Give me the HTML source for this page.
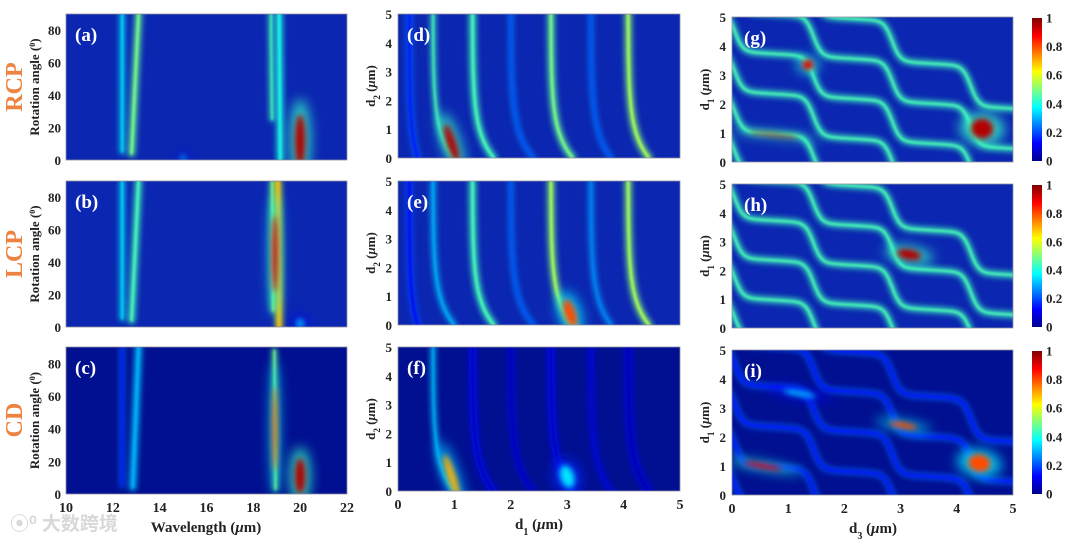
<!DOCTYPE html>
<html><head><meta charset="utf-8"><style>
html,body{margin:0;padding:0;background:#fff;width:1080px;height:539px;overflow:hidden;}
svg{display:block;font-family:"Liberation Serif",serif;}
</style></head><body>
<svg id="fig" width="1080" height="539" viewBox="0 0 1080 539" xmlns="http://www.w3.org/2000/svg">
<defs>
<filter id="b3" filterUnits="userSpaceOnUse" x="0" y="0" width="1080" height="539"><feGaussianBlur stdDeviation="3"/></filter>
<filter id="b1" filterUnits="userSpaceOnUse" x="0" y="0" width="1080" height="539"><feGaussianBlur stdDeviation="1"/></filter>
<filter id="b6" filterUnits="userSpaceOnUse" x="0" y="0" width="1080" height="539"><feGaussianBlur stdDeviation="6"/></filter>
<linearGradient id="jet" x1="0" y1="1" x2="0" y2="0">
<stop offset="0" stop-color="#00008f"/><stop offset="0.125" stop-color="#0000ff"/><stop offset="0.375" stop-color="#00ffff"/><stop offset="0.625" stop-color="#ffff00"/><stop offset="0.875" stop-color="#ff0000"/><stop offset="1" stop-color="#800000"/>
</linearGradient>
</defs>
</svg>
<script>
const NS='http://www.w3.org/2000/svg';
const svg=document.getElementById('fig');
// ---- data ----
const col1XTicks=[10,12,14,16,18,20,22];
const col1YTicks=[0,20,40,60,80];
const dTicks=[0,1,2,3,4,5];
const cbTicks=[0,0.2,0.4,0.6,0.8,1];
// col1 ridges: [wl at bottom, wl at top, angle start, angle end] per panel
const ridgesA=[[12.4,12.4,5,90],[12.8,13.1,4,90],[18.8,18.75,25,90],[19.15,19.1,0,90]];
const ridgeIntA=[0.35,0.5,0.45,0.4];
const ridgesB=[[12.4,12.4,5,90],[12.8,13.1,4,90],[18.85,18.8,10,90],[19.1,19.05,0,90]];
const ridgeIntB=[0.35,0.45,0.5,0.7];
const ridgesC=[[12.4,12.4,5,90],[12.85,13.1,4,90],[18.95,18.9,3,88]];
const ridgeIntC=[0.15,0.3,0.5];
// hotspots: [x,y,rx,ry,intensity]
const hotA=[[20,12,0.22,16,0.95],[15,1,0.1,2,0.3]];
const hotB=[[18.92,45,0.12,24,0.9],[20,2,0.15,3,0.3]];
const hotC=[[18.92,40,0.09,26,0.8],[20,11,0.22,11,0.95]];
// col2 curves: d1 at d2=5 (top), d1 at d2=0 (bottom)
const curveTop=[0.2,0.62,1.32,2.0,2.71,3.42,4.08];
const curveBot=[0.35,1.0,1.7,2.4,3.1,3.78,4.45];
const intD=[0.15,0.45,0.45,0.2,0.5,0.2,0.55];
const intE=[0.12,0.3,0.45,0.2,0.55,0.25,0.55];
const intF=[0.0,0.3,0.05,0.03,0.05,0.05,0.02];
const hotD=[[0.95,0.5,0.08,0.7,0.95]];
const hotE=[[3.05,0.4,0.1,0.5,0.8]];
const hotF=[[0.95,0.5,0.07,0.8,0.7],[3.0,0.5,0.12,0.4,0.35]];
// col3 staircase: drop positions along d3, step height, flat levels at d3=0.5
const drops=[0.05,1.45,2.85,4.25];
const stepH=1.38;
const levels=[-3.14,-1.76,-0.38,1.0,2.38,3.76,5.14,6.52];
const intG=0.45, intH=0.45, intI=0.14;
const hotG=[[0.75,0.93,0.45,0.05,0.95],[1.35,3.35,0.1,0.18,0.9],[4.45,1.15,0.2,0.35,0.95]];
const hotH=[[3.15,2.55,0.22,0.18,0.95]];
const hotI=[[0.55,1.0,0.35,0.08,0.9],[3.05,2.4,0.25,0.1,0.8],[4.4,1.1,0.2,0.3,0.8],[1.2,3.5,0.3,0.1,0.3]];

function jet(v){v=Math.max(0,Math.min(1,v));const st=[[0,0,0,143],[0.125,0,0,255],[0.375,0,255,255],[0.625,255,255,0],[0.875,255,0,0],[1,128,0,0]];
for(let i=1;i<st.length;i++){if(v<=st[i][0]){const a=st[i-1],b=st[i],t=(v-a[0])/(b[0]-a[0]);return `rgb(${Math.round(a[1]+t*(b[1]-a[1]))},${Math.round(a[2]+t*(b[2]-a[2]))},${Math.round(a[3]+t*(b[3]-a[3]))})`;}}return 'rgb(128,0,0)';}
function el(tag,attrs,parent){const e=document.createElementNS(NS,tag);for(const k in attrs)e.setAttribute(k,attrs[k]);(parent||svg).appendChild(e);return e;}
let clipN=0;
function panel(name,x0,y0,x1,y1,xmin,xmax,ymin,ymax,bg){
  const sx=v=>x0+(v-xmin)/(xmax-xmin)*(x1-x0), sy=v=>y1-(v-ymin)/(ymax-ymin)*(y1-y0);
  const id='c'+(clipN++);
  const cp=el('clipPath',{id:id});el('rect',{x:x0,y:y0,width:x1-x0,height:y1-y0},cp);
  const g=el('g',{'clip-path':`url(#${id})`});
  
  
  el('rect',{x:x0,y:y0,width:x1-x0,height:y1-y0,fill:bg},g);
  const fr=el('rect',{x:x0,y:y0,width:x1-x0,height:y1-y0,fill:'none',stroke:'#9090a0','stroke-width':0.8});
  
  
  return {g,sx,sy};
}
function ridge(P,pts,v,w){
  const d='M'+pts.map(p=>P.sx(p[0]).toFixed(1)+','+P.sy(p[1]).toFixed(1)).join('L');
  const h=el('path',{d:d,fill:'none',stroke:jet(v*0.75+0.1),'stroke-width':w||8,opacity:0.85,filter:'url(#b3)','stroke-linecap':'round'},P.g);
  
  
  const c=el('path',{d:d,fill:'none',stroke:jet(v),'stroke-width':(w||8)/3,filter:'url(#b1)','stroke-linecap':'round'},P.g);
  
  
}
function hot(P,h,rot){
  const [x,y,rx,ry,v]=h;
  const cx=P.sx(x),cy=P.sy(y),RX=Math.abs(P.sx(x+rx)-cx),RY=Math.abs(P.sy(y+ry)-cy);
  const o=el('ellipse',{cx:cx,cy:cy,rx:RX*2,ry:RY*1.6,fill:jet(v*0.45),opacity:0.8,filter:'url(#b6)',transform:`rotate(${rot||0} ${cx} ${cy})`},P.g);
  
  
  const i=el('ellipse',{cx:cx,cy:cy,rx:RX,ry:RY,fill:jet(v),filter:'url(#b3)',transform:`rotate(${rot||0} ${cx} ${cy})`},P.g);
  
  
}
function text(x,y,s,fill,size,extra,name,family){
  const t=el('text',Object.assign({x:x,y:y,style:`fill:${fill};font-size:${size}px;font-weight:bold;`+(family?`font-family:${family};`:'')},extra||{}));
  t.textContent=s;return t;}
function yTicks(P,x0,ticks){ticks.forEach(v=>{text(x0-5,P.sy(v)+5,String(v),'#222',13,{'text-anchor':'end'},'y-tick-label');});}
function xTicks(P,y1,ticks){ticks.forEach(v=>{text(P.sx(v),y1+18,String(v),'#222',14,{'text-anchor':'middle'},'x-tick-label');});}
function plabel(x,y,s){text(x,y,s,'#fff',19,{},'panel-label');}
function ylab(x,cy,s,name){const t=text(x,cy,'','#222',13,{'text-anchor':'middle',transform:`rotate(-90 ${x} ${cy})`},name);t.innerHTML=s;}

// ---- column 1 ----
const rows1=[[14,160],[181,327],[347,494]];
const set1=[[ridgesA,ridgeIntA,hotA,'#0b26b0'],[ridgesB,ridgeIntB,hotB,'#0b26b0'],[ridgesC,ridgeIntC,hotC,'#001090']];
['a','b','c'].forEach((L,i)=>{
  const [y0,y1]=rows1[i];const [R,I,H,bg]=set1[i];
  const P=panel('panel-'+L,66,y0,347,y1,10,22,0,90,bg);
  R.forEach((r,j)=>{const pts=[];for(let k=0;k<=20;k++){const t=k/20;pts.push([r[0]+(r[1]-r[0])*t,r[2]+(r[3]-r[2])*t]);}ridge(P,pts,I[j],j%2?7:5);});
  H.forEach(h=>hot(P,h));
  yTicks(P,66,col1YTicks);
  ylab(39,(y0+y1)/2,'Rotation angle (<tspan baseline-shift="super" font-size="8">0</tspan>)','y-axis-title');
  plabel(75,y0+27,'('+L+')');
  if(i==2){xTicks(P,y1,col1XTicks);const xt=text(206,y1+38,'','#222',15,{'text-anchor':'middle'},'x-axis-title');xt.innerHTML='Wavelength (<tspan font-style="italic">μ</tspan>m)';}
});
[['RCP',87],['LCP',254],['CD',420]].forEach(([s,cy])=>{text(22,cy,s,'#ec8340',24,{'text-anchor':'middle',transform:`rotate(-90 22 ${cy})`},'row-label');});

// ---- column 2 ----
const rows2=[[14,158],[181,325],[347,491]];
const set2=[[intD,hotD,'#0b26b0'],[intE,hotE,'#0b26b0'],[intF,hotF,'#001090']];
['d','e','f'].forEach((L,i)=>{
  const [y0,y1]=rows2[i];const [I,H,bg]=set2[i];
  const P=panel('panel-'+L,398,y0,680,y1,0,5,0,5,bg);
  curveTop.forEach((tp,j)=>{if(I[j]<=0)return;const pts=[];for(let k=0;k<=40;k++){const d2=5*k/40;pts.push([tp+(curveBot[j]-tp)*Math.exp(-d2/0.9),d2]);}ridge(P,pts,I[j],j%2?5:7);});
  H.forEach(h=>hot(P,h,-18));
  yTicks(P,397,dTicks);
  ylab(375,(y0+y1)/2,'d<tspan baseline-shift="sub" font-size="9">2</tspan> (<tspan font-style="italic">μ</tspan>m)','y-axis-title');
  plabel(407,y0+27,'('+L+')');
  if(i==2){xTicks(P,y1,dTicks);const xt=text(539,y1+38,'','#222',15,{'text-anchor':'middle'},'x-axis-title');xt.innerHTML='d<tspan baseline-shift="sub" font-size="10">1</tspan> (<tspan font-style="italic">μ</tspan>m)';}
});

// ---- column 3 ----
const rows3=[[17,162],[184,328],[350,495]];
const set3=[[intG,hotG,'#0b26b0'],[intH,hotH,'#0b26b0'],[intI,hotI,'#001090']];
function stair(d3,lev){let y=lev+stepH+0.06-0.12*d3;drops.forEach(s=>{y-=stepH/(1+Math.exp(-(d3-s)/0.07));});return y;}
['g','h','i'].forEach((L,i)=>{
  const [y0,y1]=rows3[i];const [I,H,bg]=set3[i];
  const P=panel('panel-'+L,732,y0,1013,y1,0,5,0,5,bg);
  levels.forEach(lv=>{const pts=[];for(let k=0;k<=160;k++){const d3=-0.2+5.4*k/160;pts.push([d3,stair(d3,lv)]);}ridge(P,pts,I,6);});
  H.forEach(h=>hot(P,h,i==0?6:10));
  yTicks(P,731,dTicks);
  ylab(709,(y0+y1)/2,'d<tspan baseline-shift="sub" font-size="9">1</tspan> (<tspan font-style="italic">μ</tspan>m)','y-axis-title');
  plabel(744,y0+27,'('+L+')');
  if(i==2){xTicks(P,y1,dTicks);const xt=text(873,y1+38,'','#222',15,{'text-anchor':'middle'},'x-axis-title');xt.innerHTML='d<tspan baseline-shift="sub" font-size="10">3</tspan> (<tspan font-style="italic">μ</tspan>m)';}
  const cb=el('rect',{x:1032,y:y0+1,width:10,height:y1-y0-2,fill:'url(#jet)'});
  
  
  cbTicks.forEach(v=>{const yy=y1-1-v*(y1-y0-2);text(1046,yy+4.5,String(v),'#222',13,{},'colorbar-tick-label');});
});
// watermark
text(10,530,'⦿⁰ 大数跨境','#d8d8d8',19,{},'watermark','"Liberation Sans","Noto Sans CJK SC",sans-serif');
</script>
</body></html>
